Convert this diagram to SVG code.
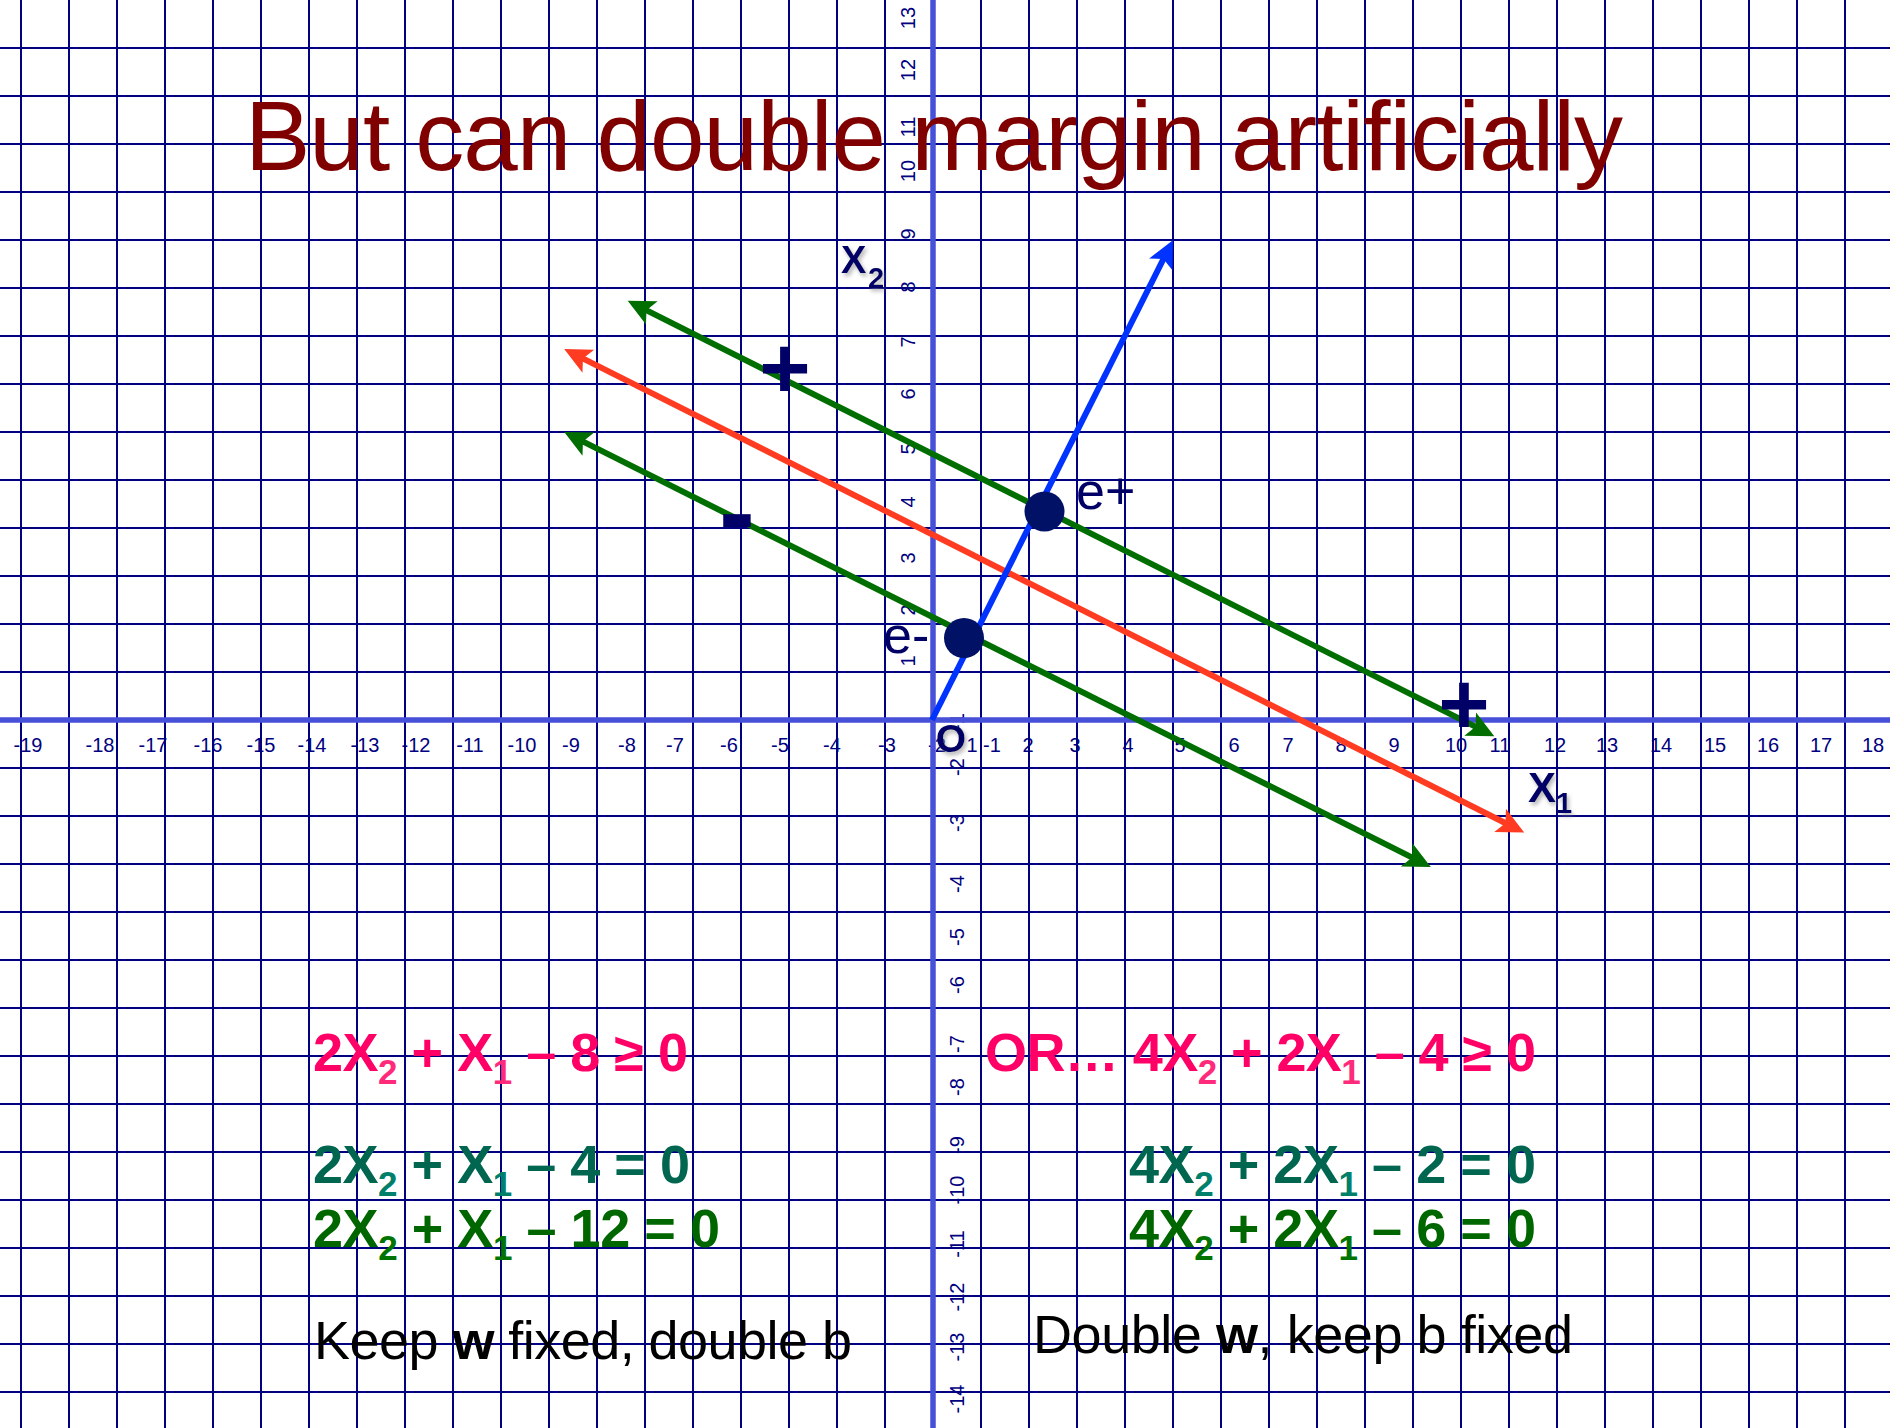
<svg xmlns="http://www.w3.org/2000/svg" width="1890" height="1428" viewBox="0 0 1890 1428">
<style>
.grid{stroke:#000080;stroke-width:2;fill:none}
.axis{stroke:#4650D8;stroke-width:5.5;fill:none}
.tick{font-family:"Liberation Sans",Arial,sans-serif;font-size:20px;fill:#000080;text-anchor:middle}
.lbl{font-family:"Liberation Sans",Arial,sans-serif;fill:#000066}
.eq{font-family:"Liberation Sans",Arial,sans-serif;font-weight:bold;font-size:54px}
.sub{font-size:35px}
.pink{fill:#FF0066}.pinks{fill:#FF2A7A}
.teal{fill:#006650}.teals{fill:#00806A}
.green{fill:#006600}.greens{fill:#007400}
.body{font-family:"Liberation Sans",Arial,sans-serif;font-size:54px;fill:#000}
.ln{fill:none;stroke-width:6}
</style>
<defs>
<filter id="sh" x="-30%" y="-30%" width="160%" height="160%">
<feDropShadow dx="2" dy="3" stdDeviation="2" flood-color="#808080" flood-opacity="0.6"/>
</filter>
<marker id="ag" markerUnits="userSpaceOnUse" viewBox="-16 -15 32 30" markerWidth="32" markerHeight="30" refX="0" refY="0" orient="auto-start-reverse" overflow="visible"><path d="M14,0 L-13,-13 L-7,0 L-13,13 Z" fill="#006E00"/></marker>
<marker id="ar" markerUnits="userSpaceOnUse" viewBox="-16 -15 32 30" markerWidth="32" markerHeight="30" refX="0" refY="0" orient="auto-start-reverse" overflow="visible"><path d="M14,0 L-13,-13 L-7,0 L-13,13 Z" fill="#FF3B22"/></marker>
<marker id="ab" markerUnits="userSpaceOnUse" viewBox="-16 -15 32 30" markerWidth="32" markerHeight="30" refX="0" refY="0" orient="auto" overflow="visible"><path d="M14,0 L-13,-13 L-7,0 L-13,13 Z" fill="#0033FF"/></marker>
</defs>
<rect width="1890" height="1428" fill="#fff"/>
<g id="grid">
<path class="grid" d="M21 0V1428M69 0V1428M117 0V1428M165 0V1428M213 0V1428M261 0V1428M309 0V1428M357 0V1428M405 0V1428M453 0V1428M501 0V1428M549 0V1428M597 0V1428M645 0V1428M693 0V1428M741 0V1428M789 0V1428M837 0V1428M885 0V1428M981 0V1428M1029 0V1428M1077 0V1428M1125 0V1428M1173 0V1428M1221 0V1428M1269 0V1428M1317 0V1428M1365 0V1428M1413 0V1428M1461 0V1428M1509 0V1428M1557 0V1428M1605 0V1428M1653 0V1428M1701 0V1428M1749 0V1428M1797 0V1428M1845 0V1428"/>
<path class="grid" d="M0 48H1890M0 96H1890M0 144H1890M0 192H1890M0 240H1890M0 288H1890M0 336H1890M0 384H1890M0 432H1890M0 480H1890M0 528H1890M0 576H1890M0 624H1890M0 672H1890M0 768H1890M0 816H1890M0 864H1890M0 912H1890M0 960H1890M0 1008H1890M0 1056H1890M0 1104H1890M0 1152H1890M0 1200H1890M0 1248H1890M0 1296H1890M0 1344H1890M0 1392H1890"/>
</g>
<g id="x-ticks" class="tick">
<text x="28" y="752">-19</text><text x="100" y="752">-18</text><text x="153" y="752">-17</text><text x="208" y="752">-16</text><text x="261" y="752">-15</text><text x="312" y="752">-14</text><text x="365" y="752">-13</text><text x="416" y="752">-12</text><text x="470" y="752">-11</text><text x="522" y="752">-10</text><text x="571" y="752">-9</text><text x="627" y="752">-8</text><text x="675" y="752">-7</text><text x="729" y="752">-6</text><text x="780" y="752">-5</text><text x="832" y="752">-4</text><text x="887" y="752">-3</text><text x="937" y="752">-2</text><text x="972" y="752">1</text><text x="992" y="752">-1</text><text x="1028" y="752">2</text><text x="1075" y="752">3</text><text x="1128" y="752">4</text><text x="1180" y="752">5</text><text x="1234" y="752">6</text><text x="1288" y="752">7</text><text x="1341" y="752">8</text><text x="1394" y="752">9</text><text x="1456" y="752">10</text><text x="1500" y="752">11</text><text x="1555" y="752">12</text><text x="1607" y="752">13</text><text x="1661" y="752">14</text><text x="1715" y="752">15</text><text x="1768" y="752">16</text><text x="1821" y="752">17</text><text x="1873" y="752">18</text>
</g>
<g id="y-ticks" class="tick">
<text transform="translate(915 18) rotate(-90)">13</text><text transform="translate(915 70) rotate(-90)">12</text><text transform="translate(915 127) rotate(-90)">11</text><text transform="translate(915 171) rotate(-90)">10</text><text transform="translate(915 234) rotate(-90)">9</text><text transform="translate(915 287) rotate(-90)">8</text><text transform="translate(915 342) rotate(-90)">7</text><text transform="translate(915 394) rotate(-90)">6</text><text transform="translate(915 449) rotate(-90)">5</text><text transform="translate(915 502) rotate(-90)">4</text><text transform="translate(915 558) rotate(-90)">3</text><text transform="translate(915 610) rotate(-90)">2</text><text transform="translate(915 661) rotate(-90)">1</text>
<text transform="translate(964 722) rotate(-90)">-1</text><text transform="translate(964 767) rotate(-90)">-2</text><text transform="translate(964 823) rotate(-90)">-3</text><text transform="translate(964 884) rotate(-90)">-4</text><text transform="translate(964 937) rotate(-90)">-5</text><text transform="translate(964 985) rotate(-90)">-6</text><text transform="translate(964 1044) rotate(-90)">-7</text><text transform="translate(964 1087) rotate(-90)">-8</text><text transform="translate(964 1145) rotate(-90)">-9</text><text transform="translate(964 1190) rotate(-90)">-10</text><text transform="translate(964 1244) rotate(-90)">-11</text><text transform="translate(964 1297) rotate(-90)">-12</text><text transform="translate(964 1347) rotate(-90)">-13</text><text transform="translate(964 1399) rotate(-90)">-14</text>
</g>
<g id="axes">
<path class="axis" d="M0 720H1890M933 0V1428"/>
</g>
<g id="title">
<text x="245" y="170" font-family="'Liberation Sans',Arial,sans-serif" font-size="98" fill="#800000" textLength="1378" lengthAdjust="spacing">But can double margin artificially</text>
</g>
<g id="connectors">
<path class="ln" stroke="#006E00" d="M640.2 307.1L1481.8 729.9" marker-start="url(#ag)" marker-end="url(#ag)"/>
<path class="ln" stroke="#FF3B22" d="M576.7 355.4L1511.7 826.3" marker-start="url(#ar)" marker-end="url(#ar)"/>
<path class="ln" stroke="#006E00" d="M576.7 438.4L1418.3 860.6" marker-start="url(#ag)" marker-end="url(#ag)"/>
<path class="ln" stroke="#0033FF" stroke-width="6.5" d="M932 720L1166.6 252.7" marker-end="url(#ab)"/>
</g>
<g id="label-x2" class="lbl" font-weight="bold" filter="url(#sh)">
<text x="841" y="273" font-size="38">X</text><text x="868" y="288" font-size="29">2</text>
</g>
<g id="label-x1" class="lbl" font-weight="bold" filter="url(#sh)">
<text x="1528" y="802" font-size="42">X</text><text x="1556" y="813" font-size="29">1</text>
</g>
<g id="label-origin" class="lbl" font-weight="bold" filter="url(#sh)">
<text x="951" y="752" font-size="39" text-anchor="middle">O</text>
</g>
<g id="point-eplus">
<circle cx="1044.5" cy="511.5" r="20" fill="#001166"/>
<text class="lbl" x="1076" y="509" font-size="52">e+</text>
</g>
<g id="point-eminus">
<circle cx="964" cy="638" r="20" fill="#001166"/>
<text class="lbl" x="883" y="653" font-size="52">e-</text>
</g>
<g id="sign-plus-1"><text class="lbl" x="785" y="398" font-size="88" font-weight="bold" text-anchor="middle">+</text></g>
<g id="sign-plus-2"><text class="lbl" x="1464" y="734" font-size="88" font-weight="bold" text-anchor="middle">+</text></g>
<g id="sign-minus"><text class="lbl" x="737" y="549" font-size="108" font-weight="bold" text-anchor="middle">-</text></g>
<g id="eq-left">
<text class="eq pink" x="313" y="1071" textLength="375" lengthAdjust="spacing">2X<tspan class="sub pinks" dy="13">2</tspan><tspan dy="-13"> + X</tspan><tspan class="sub pinks" dy="13">1</tspan><tspan dy="-13"> – 8 ≥ 0</tspan></text>
<text class="eq teal" x="313" y="1183" textLength="377" lengthAdjust="spacing">2X<tspan class="sub teals" dy="13">2</tspan><tspan dy="-13"> + X</tspan><tspan class="sub teals" dy="13">1</tspan><tspan dy="-13"> – 4 = 0</tspan></text>
<text class="eq green" x="313" y="1247" textLength="407" lengthAdjust="spacing">2X<tspan class="sub greens" dy="13">2</tspan><tspan dy="-13"> + X</tspan><tspan class="sub greens" dy="13">1</tspan><tspan dy="-13"> – 12 = 0</tspan></text>
</g>
<g id="eq-right">
<text class="eq pink" x="985" y="1071" textLength="551" lengthAdjust="spacing">OR… 4X<tspan class="sub pinks" dy="13">2</tspan><tspan dy="-13"> + 2X</tspan><tspan class="sub pinks" dy="13">1</tspan><tspan dy="-13"> – 4 ≥ 0</tspan></text>
<text class="eq teal" x="1129" y="1183" textLength="407" lengthAdjust="spacing">4X<tspan class="sub teals" dy="13">2</tspan><tspan dy="-13"> + 2X</tspan><tspan class="sub teals" dy="13">1</tspan><tspan dy="-13"> – 2 = 0</tspan></text>
<text class="eq green" x="1129" y="1247" textLength="407" lengthAdjust="spacing">4X<tspan class="sub greens" dy="13">2</tspan><tspan dy="-13"> + 2X</tspan><tspan class="sub greens" dy="13">1</tspan><tspan dy="-13"> – 6 = 0</tspan></text>
</g>
<g id="caption-left">
<text class="body" x="314" y="1359" textLength="538" lengthAdjust="spacing">Keep <tspan font-weight="bold">w</tspan> fixed, double b</text>
</g>
<g id="caption-right">
<text class="body" x="1033" y="1353" textLength="540" lengthAdjust="spacing">Double <tspan font-weight="bold">w</tspan>, keep b fixed</text>
</g>
</svg>
